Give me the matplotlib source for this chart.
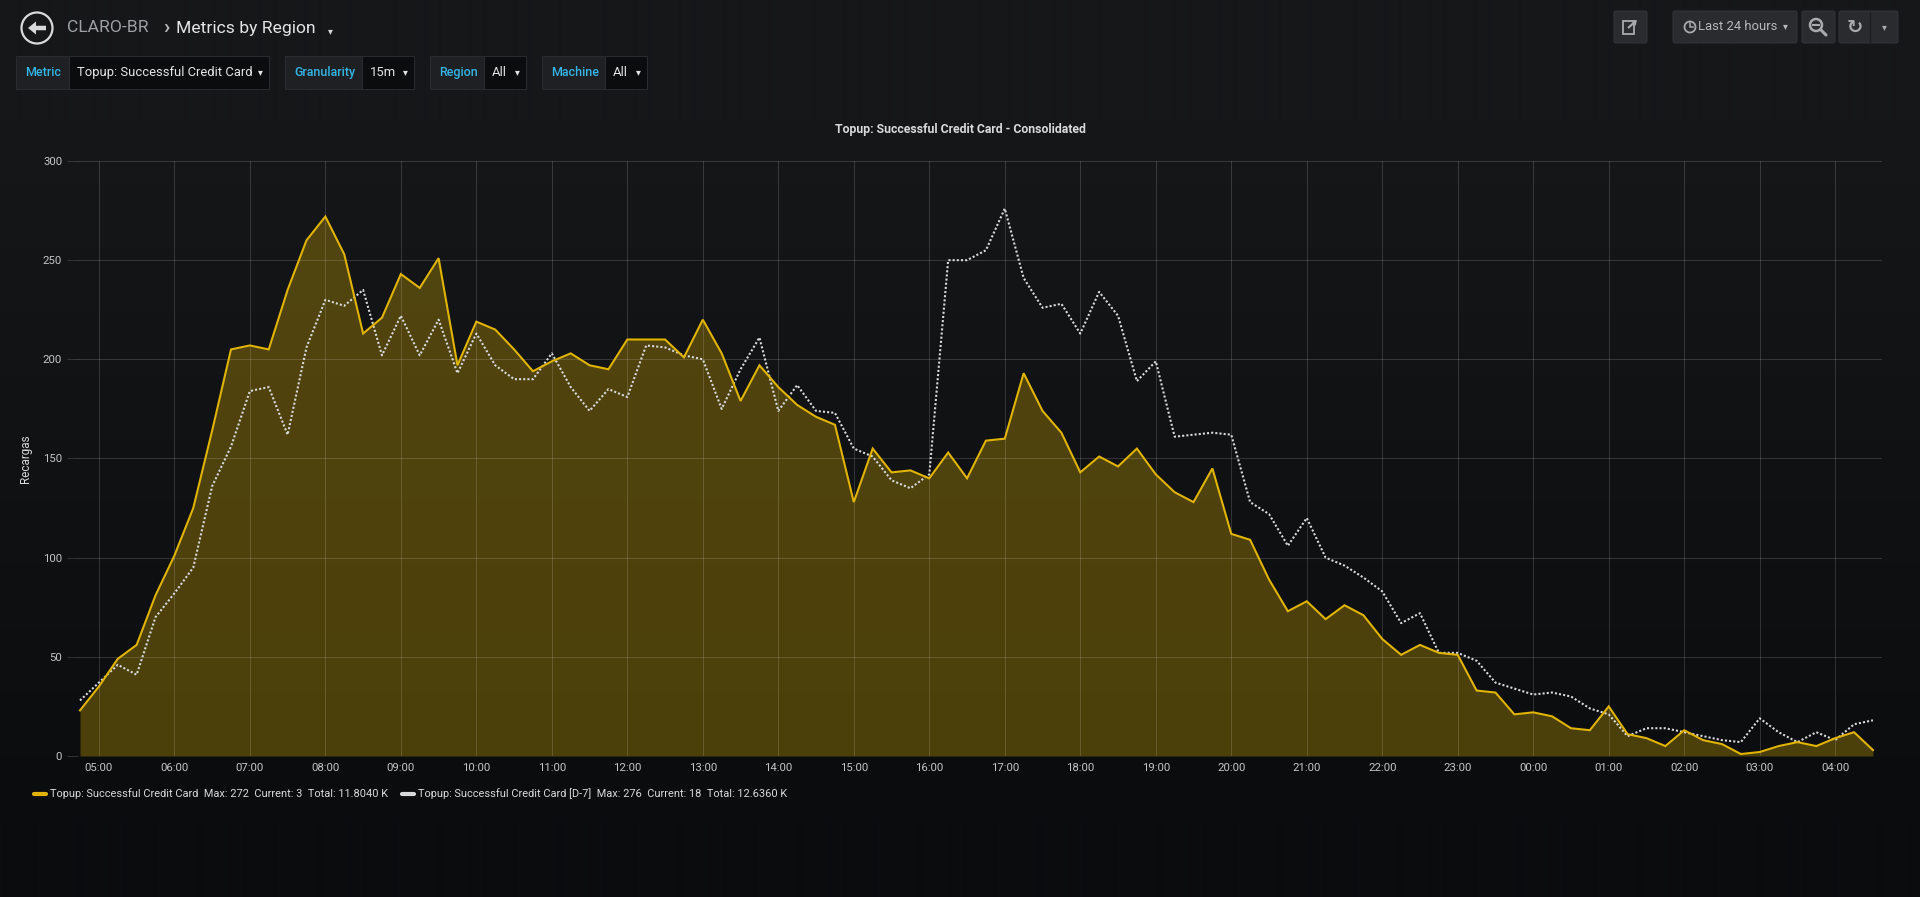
import numpy as np
import pandas as pd
import matplotlib
matplotlib.use('Agg')
import matplotlib.pyplot as plt
import matplotlib.dates as mdates
from matplotlib.lines import Line2D
from matplotlib.patches import Rectangle, Circle, FancyArrow, FancyBboxPatch

# ---------------- data ----------------
start_time = '2019-03-20 04:45'
interval = '15min'

current = [23, 35, 49, 56, 81, 101, 125, 164, 205, 207, 205, 235, 260, 272, 253, 213,
           221, 243, 236, 251, 197, 219, 215, 205, 194,
           199, 203, 197, 195, 210, 210, 210, 201, 220, 203, 179, 197, 186, 177, 171,
           167, 128, 155, 143, 144, 140, 153, 140, 159,
           160, 193, 174, 163, 143, 151, 146, 155, 142, 133, 128, 145, 112, 109, 89,
           73, 78, 69, 76, 71, 59, 51, 56, 52,
           51, 33, 32, 21, 22, 20, 14, 13, 25, 11, 9, 5, 13, 8, 6, 1, 2, 5, 7, 5, 9, 12, 3]

week_ago = [28, 37, 46, 41, 70, 82, 95, 136, 156, 184, 186, 162, 206, 230, 227, 235,
            202, 222, 202, 220, 193, 213, 197, 190, 190,
            203, 186, 174, 185, 181, 207, 206, 202, 200, 175, 195, 211, 174, 187, 174,
            173, 155, 151, 139, 135, 142, 250, 250, 255,
            276, 241, 226, 228, 213, 234, 222, 189, 199, 161, 162, 163, 162, 128, 122,
            106, 120, 100, 96, 90, 83, 67, 72, 52,
            52, 48, 37, 34, 31, 32, 30, 24, 21, 10, 14, 14, 12, 10, 8, 7, 19, 12, 7, 12, 8, 16, 18]

series_names = ['Topup: Successful Credit Card', 'Topup: Successful Credit Card [D-7]']
legend_max = [272, 276]
legend_current = [3, 18]
legend_total = ['11.8040 K', '12.6360 K']
y_ticks = [0, 50, 100, 150, 200, 250, 300]

panel_title = 'Topup: Successful Credit Card - Consolidated'
y_label = 'Recargas'
var_labels = ['Metric', 'Granularity', 'Region', 'Machine']
var_values = ['Topup: Successful Credit Card', '15m', 'All', 'All']
time_range_label = 'Last 24 hours'

# ---------------- style ----------------
plt.rcParams['font.family'] = ['Roboto', 'DejaVu Sans']
GOLD = '#E0B400'
WHITE = '#d8d9da'
TEXT = '#d8d9da'
TICK_TEXT = '#c4c5c7'
GRID_ALPHA = 0.15

W, H = 1920, 897
fig = plt.figure(figsize=(W / 100, H / 100), dpi=100)

# background / chrome layer in pixel coordinates (y down)
bg = fig.add_axes([0, 0, 1, 1], zorder=0)
bg.set_xlim(0, W)
bg.set_ylim(H, 0)
bg.axis('off')

c0 = np.array([0x16, 0x17, 0x19]) / 255
c1 = np.array([0x0b, 0x0c, 0x0e]) / 255
yy = np.clip((np.arange(H) - 120) / 700.0, 0, 1)[:, None]
grad = (c0[None, :] * (1 - yy) + c1[None, :] * yy)[:, None, :]
grad = np.repeat(grad, 2, axis=1)
bg.imshow(grad, extent=[0, W, H, 0], aspect='auto', zorder=0, interpolation='bilinear')

# header: back button + breadcrumb
bg.add_patch(Circle((37, 28), 15.5, fill=False, ec=WHITE, lw=1.6, zorder=2))
bg.add_patch(FancyArrow(46, 28, -18, 0, width=4.5, head_width=13, head_length=8,
                        length_includes_head=True, color=WHITE, lw=0, zorder=2))
bg.text(67, 28, 'CLARO-BR', color='#9d9fa3', fontsize=12.6, va='center', ha='left', zorder=3)
bg.text(163, 27, '›', color='#b5b6b8', fontsize=15, fontweight='bold', va='center', ha='left', zorder=3)
bg.text(176, 28, 'Metrics by Region', color='#e3e4e5', fontsize=12.6, va='center', ha='left', zorder=3)
bg.text(330, 31, '▾', color=TEXT, fontsize=7, va='center', ha='center',
        family=['DejaVu Sans'], zorder=3)

# template variable row
var_boxes = [(16, 69, 269), (285, 362, 414), (430, 484, 526), (542, 605, 647)]
for (x0, x1, x2), lab, val in zip(var_boxes, var_labels, var_values):
    bg.add_patch(Rectangle((x0, 56), x1 - x0, 33, fc='#1f2023', ec='#2a2b2f', lw=0.75, zorder=2))
    bg.add_patch(Rectangle((x1, 56), x2 - x1, 33, fc='#0b0c0e', ec='#2a2b2f', lw=0.75, zorder=2))
    bg.text(x0 + 9, 72.5, lab, color='#33b5e5', fontsize=9, fontweight='medium',
            va='center', ha='left', zorder=3)
    bg.text(x1 + 8, 72.5, val, color='#e3e4e5', fontsize=9.4, va='center', ha='left', zorder=3)
    bg.text(x2 - 9, 72, '▾', color='#e3e4e5', fontsize=7, va='center', ha='center',
            family=['DejaVu Sans'], zorder=3)

# top-right buttons
ICON = '#a9aaac'
for x0, x1 in [(1614, 1647), (1673, 1797), (1802, 1835), (1839, 1898)]:
    bg.add_patch(FancyBboxPatch((x0, 11), x1 - x0, 32, boxstyle='round,pad=0,rounding_size=2',
                                fc='#2a2b2e', ec='#323337', lw=0.75, zorder=2))
bg.plot([1870, 1870], [12, 42], color='#1e1f22', lw=1, zorder=3)
# share icon
bg.add_patch(Rectangle((1623, 21), 11, 13, fill=False, ec=ICON, lw=1.3, zorder=3))
bg.add_patch(FancyArrow(1628, 28, 9, -8, width=2.2, head_width=7, head_length=5,
                        length_includes_head=True, color=ICON, lw=0, zorder=4))
# clock + time range
bg.add_patch(Circle((1690, 27), 5.5, fill=False, ec=ICON, lw=1.3, zorder=3))
bg.plot([1690, 1690, 1693], [23.5, 27.5, 27.5], color=ICON, lw=1.1, zorder=3)
bg.text(1698, 27, time_range_label, color='#b7b8ba', fontsize=9.4, va='center', ha='left', zorder=3)
bg.text(1785, 26, '▾', color='#b7b8ba', fontsize=7, va='center', ha='center',
        family=['DejaVu Sans'], zorder=3)
# zoom out icon
bg.add_patch(Circle((1816, 25), 6, fill=False, ec=ICON, lw=1.8, zorder=3))
bg.plot([1820.5, 1826], [29.5, 35], color=ICON, lw=2.2, zorder=3, solid_capstyle='round')
bg.plot([1813, 1819], [25, 25], color=ICON, lw=1.5, zorder=3)
# refresh + caret
bg.text(1855, 27, '↻', color=ICON, fontsize=14, fontweight='bold', va='center', ha='center',
        family=['DejaVu Sans'], zorder=3)
bg.text(1884, 27, '▾', color=ICON, fontsize=7, va='center', ha='center',
        family=['DejaVu Sans'], zorder=3)

# ---------------- main chart ----------------
times = pd.date_range(start_time, periods=len(current), freq=interval)

left_px, right_px, top_px, bottom_px = 78, 1882, 161, 756
ax = fig.add_axes([left_px / W, 1 - bottom_px / H, (right_px - left_px) / W,
                   (bottom_px - top_px) / H], zorder=1)
ax.set_facecolor('none')

ax.fill_between(times, current, 0, color=GOLD, alpha=0.3, lw=0, zorder=1)
ax.plot(times, week_ago, color=WHITE, lw=1.5, ls=(0, (1, 1)), zorder=3)
ax.plot(times, current, color=GOLD, lw=1.5, zorder=4, solid_joinstyle='miter')

ax.set_xlim(times[0] - pd.Timedelta(minutes=1.6), times[-1] + pd.Timedelta(minutes=7.2))
ax.set_ylim(0, 300)
ax.set_yticks(y_ticks)
ax.xaxis.set_major_locator(mdates.HourLocator())
ax.xaxis.set_major_formatter(mdates.DateFormatter('%H:%M'))

ax.set_axisbelow('line')
ax.grid(True, color='white', alpha=GRID_ALPHA, lw=0.75)
for s in ax.spines.values():
    s.set_visible(False)
ax.tick_params(axis='y', length=7.9, width=0.75, color=(1, 1, 1, GRID_ALPHA),
               labelcolor=TICK_TEXT, labelsize=8.2, pad=3.5)
ax.tick_params(axis='x', length=0, labelcolor=TICK_TEXT, labelsize=8.2, pad=5)

ax.set_ylabel(y_label, color=TEXT, fontsize=8.4)
ax.yaxis.set_label_coords(-0.0255, 0.5)

fig.text(0.5, 1 - 129 / H, panel_title, ha='center', va='center', color=TEXT,
         fontsize=8.8, fontweight='bold')

handles = [Line2D([], [], color=GOLD, lw=3, solid_capstyle='round'),
           Line2D([], [], color=WHITE, lw=3, solid_capstyle='round')]
labels = [f'{n}  Max: {m}  Current: {c}  Total: {t}'
          for n, m, c, t in zip(series_names, legend_max, legend_current, legend_total)]
fig.legend(handles, labels, loc='center left', bbox_to_anchor=(34 / W, 1 - 794 / H),
           ncol=2, frameon=False, fontsize=7.9, labelcolor=TEXT, handlelength=1.1,
           handletextpad=0.35, columnspacing=1.3, borderpad=0, borderaxespad=0)

fig.savefig('out.png', dpi=100, facecolor='#161719')
